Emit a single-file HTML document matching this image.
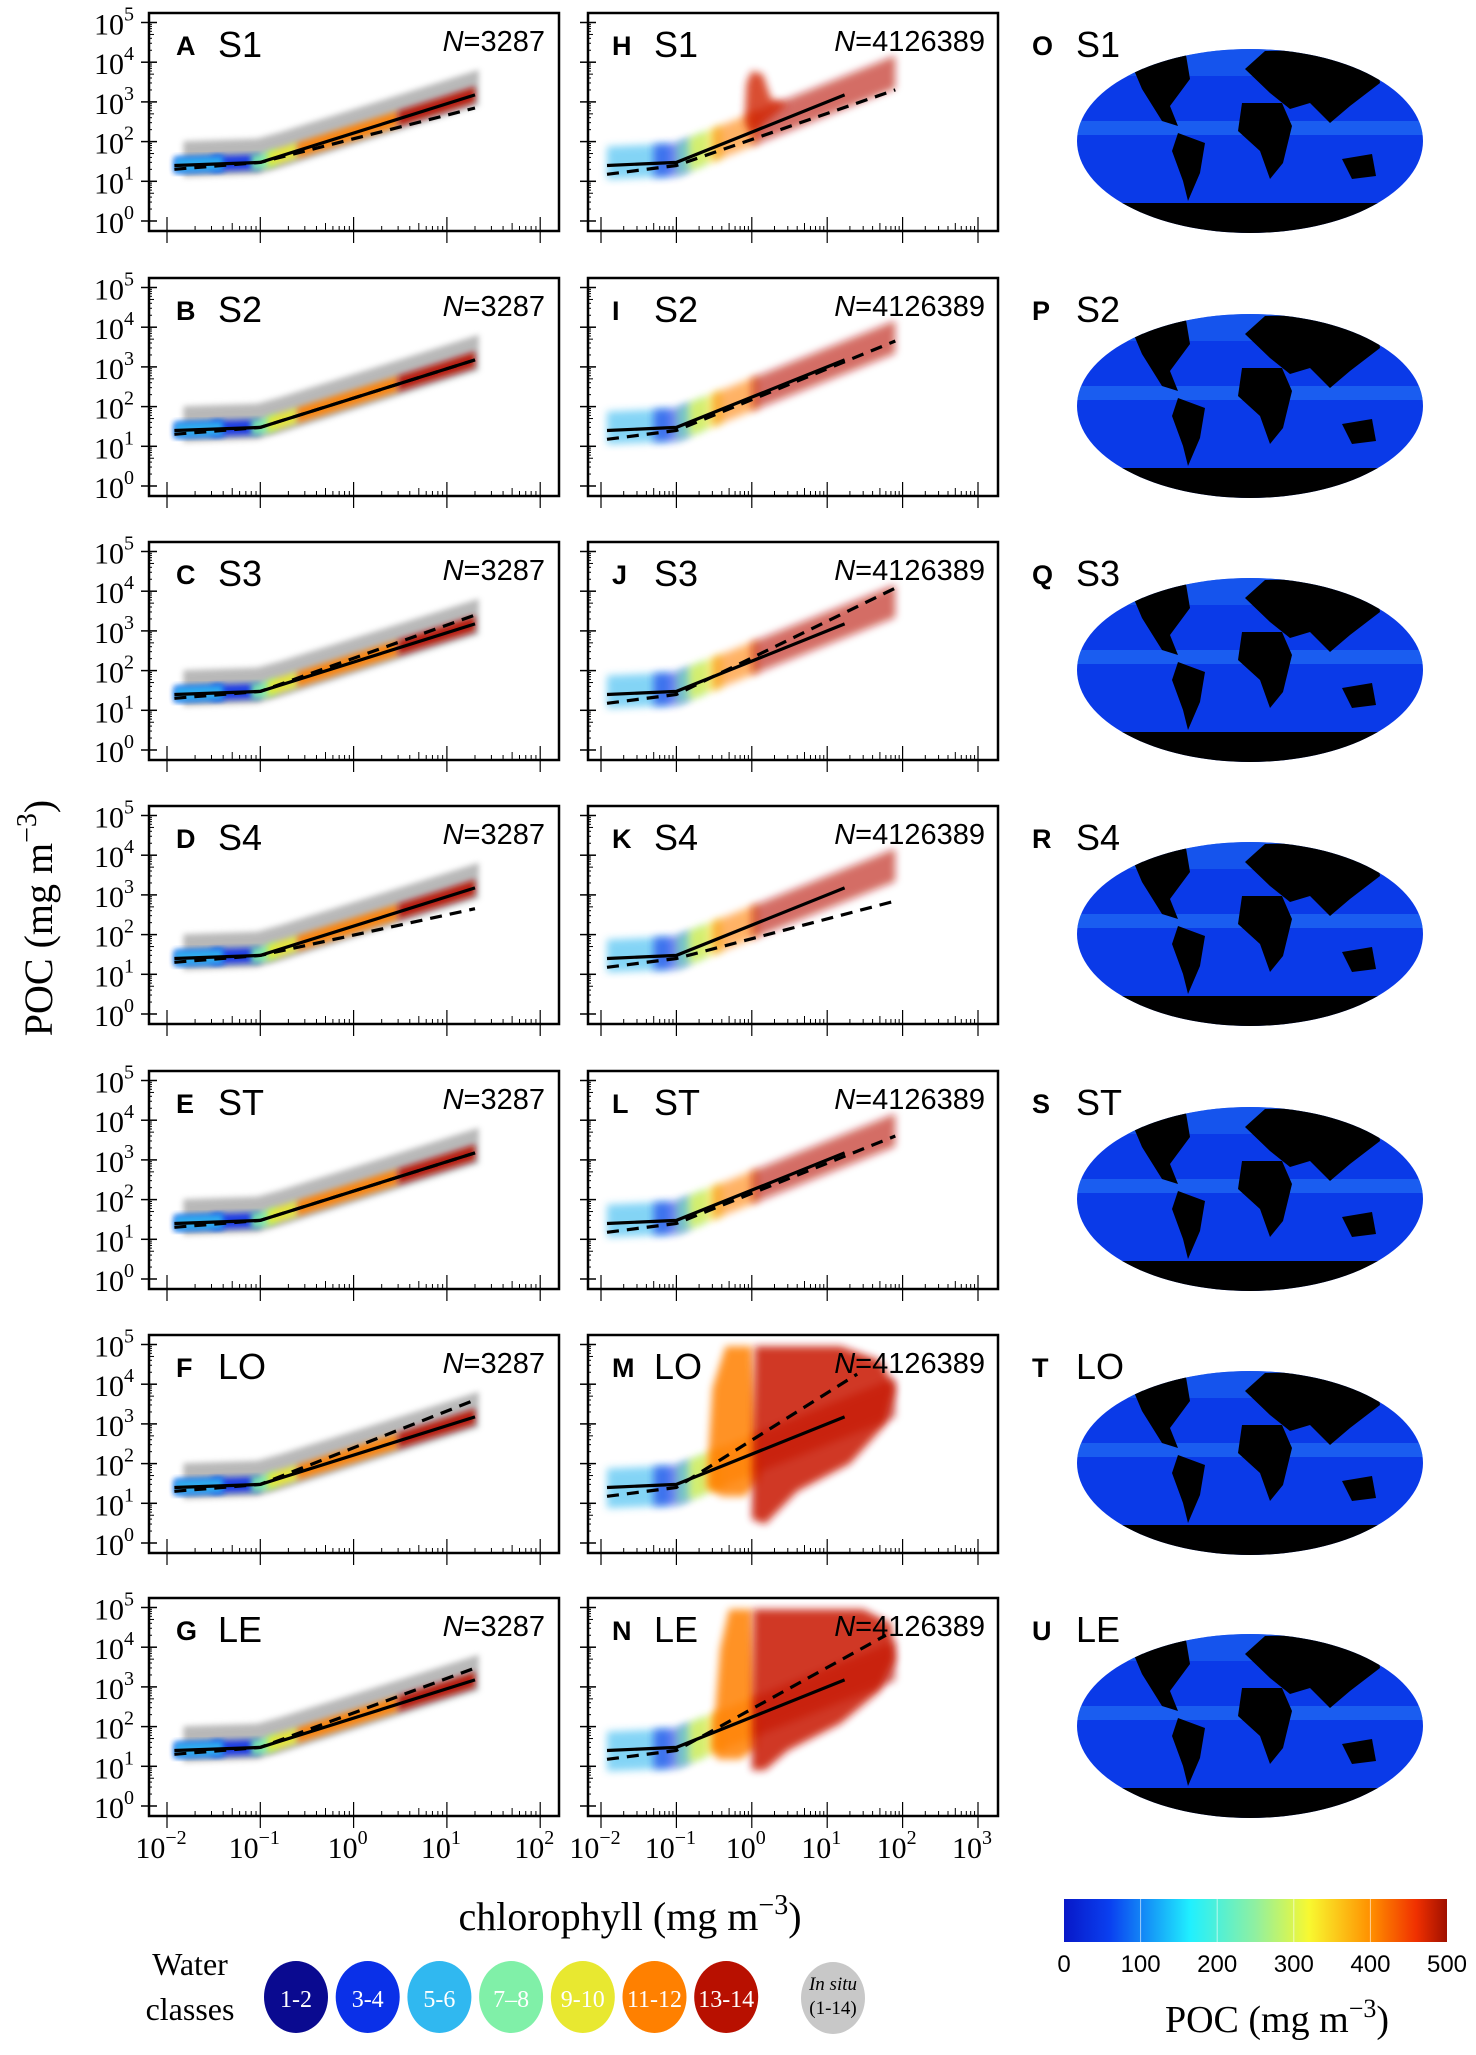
<!DOCTYPE html>
<html><head><meta charset="utf-8">
<style>
html,body{margin:0;padding:0;background:#fff;}
svg{display:block;}
text{font-family:"Liberation Sans","DejaVu Sans",sans-serif;}
.serif{font-family:"Liberation Serif","DejaVu Serif",serif;}
</style></head>
<body>
<svg id="fig" width="1476" height="2055" viewBox="0 0 1476 2055" xmlns="http://www.w3.org/2000/svg">
<defs>
<filter id="blur" x="-20%" y="-20%" width="140%" height="140%"><feGaussianBlur stdDeviation="3"/></filter>
<filter id="blur2" x="-20%" y="-20%" width="140%" height="140%"><feGaussianBlur stdDeviation="4"/></filter>
<linearGradient id="jet" x1="0" x2="1" y1="0" y2="0">
<stop offset="0" stop-color="#0818c8"/><stop offset="0.12" stop-color="#0a40f0"/>
<stop offset="0.33" stop-color="#20f0ff"/><stop offset="0.5" stop-color="#90f0a0"/>
<stop offset="0.64" stop-color="#f8f830"/><stop offset="0.8" stop-color="#ff9000"/>
<stop offset="0.92" stop-color="#f03000"/><stop offset="1" stop-color="#a01000"/>
</linearGradient>
<clipPath id="globeclip"><ellipse cx="0" cy="0" rx="173" ry="92"/></clipPath>
</defs>
<g id="panels"></g>
<text class="serif" x="0" y="0" transform="translate(52,918) rotate(-90)" text-anchor="middle" font-size="40">POC (mg m<tspan dy="-16" font-size="28">−3</tspan><tspan dy="16">)</tspan></text>
<text class="serif" x="630" y="1930" text-anchor="middle" font-size="40">chlorophyll (mg m<tspan dy="-16" font-size="28">−3</tspan><tspan dy="16">)</tspan></text>
<g>
<text class="serif" x="190" y="1975" text-anchor="middle" font-size="32">Water</text>
<text class="serif" x="190" y="2020" text-anchor="middle" font-size="32">classes</text>
<g id="legendItems"></g>
</g>
<g>
<rect x="1064" y="1899" width="383" height="43" fill="url(#jet)"/>
<g id="cbticks"></g>
<text class="serif" x="1277" y="2032" text-anchor="middle" font-size="38">POC (mg m<tspan dy="-15" font-size="26">−3</tspan><tspan dy="15">)</tspan></text>
</g>
</svg>
<script>
const rowNames=['S1','S2','S3','S4','ST','LO','LE'];
const leftLetters=['A','B','C','D','E','F','G'];
const midLetters=['H','I','J','K','L','M','N'];
const globeLetters=['O','P','Q','R','S','T','U'];
const leftN='3287';
const midN='4126389';
// solid reference fit (chl, POC)
const solidLeftX=[0.012,0.1,20];
const solidLeftY=[25,30,1500];
const solidMidX=[0.012,0.1,17];
const solidMidY=[25,30,1500];
// dashed fit per row
const dashLeftEndY=[700,1500,2500,450,1500,4000,3000];
const dashMidEndX=[80,80,80,80,80,25,60];
const dashMidEndY=[2000,4500,12000,700,4000,18000,20000];
// water class legend
const classLabels=['1-2','3-4','5-6','7–8','9-10','11-12','13-14'];
const classColors=['#0a0a90','#0a30e8','#30b8f0','#80f0a8','#e8e830','#ff8000','#b81000'];
const cbTicks=[0,100,200,300,400,500];
// colored cloud segments
const leftSegX0=[0.012,0.03,0.012,0.08,0.12,0.25,3];
const leftSegX1=[0.04,0.1,0.04,0.15,0.25,3,20];
const leftSegCls=[1,1,2,3,4,5,6];
const midSegX0=[0.012,0.05,0.1,0.15,0.3,1];
const midSegX1=[0.08,0.15,0.25,0.4,1.2,80];
const midSegCls=[2,1,3,4,5,6];
// bloom blobs (chl, POC) for H, M, N
const hSpikeX=[0.8,0.85,1.0,1.4,1.8,3,1.5,1.0];
const hSpikeY=[300,3000,6000,5000,1200,900,300,150];
const mOrangeX=[0.25,0.3,0.45,1.0,1.3,0.8,0.4];
const mOrangeY=[25,8000,90000,90000,40,15,15];
const mRedX=[1.0,1.1,15,50,80,60,20,4,1.5];
const mRedY=[4,90000,90000,40000,8000,1000,100,20,3];
const nOrangeX=[0.3,0.38,0.5,1.0,1.2,0.7,0.35];
const nOrangeY=[30,9000,90000,90000,30,15,15];
const nRedX=[1.0,1.05,30,70,80,50,15,3,1.5];
const nRedY=[8,90000,90000,40000,5000,800,120,25,8];
const rowTops=[13,278,542,806,1071,1335,1598];

const SVGNS='http://www.w3.org/2000/svg';
const root=document.getElementById('panels');
function el(tag,attrs,parent){const e=document.createElementNS(SVGNS,tag);for(const k in attrs)e.setAttribute(k,attrs[k]);(parent||root).appendChild(e);return e;}
const L10=Math.log10;
function interp(xs,ys,x){
  if(x<=xs[0])return ys[0];
  for(let i=0;i<xs.length-1;i++){if(x<=xs[i+1]){const t=(L10(x)-L10(xs[i]))/(L10(xs[i+1])-L10(xs[i]));return Math.pow(10,L10(ys[i])+t*(L10(ys[i+1])-L10(ys[i])));}}
  const n=xs.length-1;const s=(L10(ys[n])-L10(ys[n-1]))/(L10(xs[n])-L10(xs[n-1]));return Math.pow(10,L10(ys[n])+s*(L10(x)-L10(xs[n])));
}
function band(g,xs,ys,x0,x1,up,lo,fill,op,name,sx,sy,filt){
  const n=12;let top=[],bot=[];
  for(let i=0;i<=n;i++){const x=Math.pow(10,L10(x0)+(L10(x1)-L10(x0))*i/n);const c=interp(xs,ys,x);top.push(sx(x).toFixed(1)+','+sy(c*up).toFixed(1));bot.unshift(sx(x).toFixed(1)+','+sy(c*lo).toFixed(1));}
  const p=el('polygon',{points:top.concat(bot).join(' '),fill:fill,opacity:op,filter:filt||'url(#blur)'},g);
  
  
  return p;
}
function blob(g,sx,sy,xs,ys,fill,op,name){
  const pts=xs.map((x,i)=>sx(x).toFixed(1)+','+sy(ys[i]).toFixed(1)).join(' ');
  const p=el('polygon',{points:pts,fill:fill,opacity:op,filter:'url(#blur2)'},g);
  
  
}
function axes(g,left,right,top,sx,sy,xDecades,showXLabels){
  const bottom=top+218;
  for(let d=0;d<=5;d++){
    el('line',{x1:left-8,x2:left+8,y1:sy(Math.pow(10,d)),y2:sy(Math.pow(10,d)),stroke:'#000','stroke-width':1.5},g);
    if(d<5)for(let m=2;m<10;m++){const y=sy(m*Math.pow(10,d));el('line',{x1:left,x2:left+(m==5?5:3),y1:y,y2:y,stroke:'#000','stroke-width':1},g);}
  }
  for(const d of xDecades){
    const x=sx(Math.pow(10,d));
    el('line',{x1:x,x2:x,y1:bottom-14,y2:bottom+12,stroke:'#000','stroke-width':1.2},g);
    if(d<xDecades[xDecades.length-1])for(let m=2;m<10;m++){const xx=sx(m*Math.pow(10,d));el('line',{x1:xx,x2:xx,y1:bottom-(m==5?8:5),y2:bottom,stroke:'#000','stroke-width':1},g);}
    if(showXLabels){
      const t=el('text',{x:x-6,y:1858,'text-anchor':'middle','font-size':30,class:'serif'},g);
      t.textContent='10';
      const s=el('tspan',{dy:-14,'font-size':20},t);s.textContent=d<0?'−'+(-d):''+d;
      
      
    }
  }
  el('rect',{x:left,y:top,width:right-left,height:218,fill:'none',stroke:'#000','stroke-width':2.5},g);
}
function line(g,xs,ys,sx,sy,dash,name){
  const pts=xs.map((x,i)=>sx(x).toFixed(1)+','+sy(ys[i]).toFixed(1)).join(' ');
  const p=el('polyline',{points:pts,fill:'none',stroke:'#000','stroke-width':3.2,'stroke-dasharray':dash||'none'},g);
  
  
}
function label(g,x,y,letter,name,n,nx){
  const a=el('text',{x:x,y:y,'font-size':27,'font-weight':'bold'},g);a.textContent=letter;
  
  
  const b=el('text',{x:x+42,y:y+2,'font-size':36},g);b.textContent=name;
  
  
  if(n){const t=el('text',{x:nx,y:y-4,'font-size':29,'text-anchor':'end'},g);
    const i=el('tspan',{'font-style':'italic'},t);i.textContent='N';
    const r=el('tspan',{},t);r.textContent='='+n;
    
    }
}

rowNames.forEach((nm,r)=>{
  const T=rowTops[r];
  const sy=v=>T+208-L10(v)*39.7;
  // ---------- left panel ----------
  const gl=el('g',{});
  
  
  const sxl=v=>167+(L10(v)+2)*93.3;
  band(gl,solidLeftX,solidLeftY,0.015,22,4.0,0.5,'#8a8a8a',0.6,'insitu-cloud',sxl,sy);
  leftSegX0.forEach((x0,i)=>band(gl,solidLeftX,solidLeftY,x0,leftSegX1[i],1.6,0.65,classColors[leftSegCls[i]],0.9,'class-cloud-'+classLabels[leftSegCls[i]],sxl,sy));
  line(gl,solidLeftX,solidLeftY,sxl,sy,null,'solid-fit-line');
  line(gl,[0.012,0.1,20],[20,30,dashLeftEndY[r]],sxl,sy,'12,8','dashed-fit-line');
  axes(gl,149,559,T,sxl,sy,[-2,-1,0,1,2],r==6);
  for(let d=0;d<=5;d++){
    const t=el('text',{x:114,y:sy(Math.pow(10,d))+12,'text-anchor':'middle','font-size':30,class:'serif'},gl);t.textContent='10';
    const s=el('tspan',{dy:-14,'font-size':20},t);s.textContent=''+d;
    
    
  }
  label(gl,176,T+42,leftLetters[r],nm,leftN,545);
  // ---------- middle panel ----------
  const gm=el('g',{});
  
  
  const sxm=v=>601+(L10(v)+2)*75.4;
  const spread=(r==5||r==6)?[3,0.3]:[3,0.45];
  midSegX0.forEach((x0,i)=>band(gm,solidMidX,solidMidY,x0,midSegX1[i],spread[0],spread[1],classColors[midSegCls[i]],0.6,'class-cloud-'+classLabels[midSegCls[i]],sxm,sy,'url(#blur2)'));
  if(r==0){blob(gm,sxm,sy,hSpikeX,hSpikeY,'#d02000',0.8,'bloom-spike');}
  if(r==5){blob(gm,sxm,sy,mOrangeX,mOrangeY,'#ff8000',0.85,'bloom-orange');blob(gm,sxm,sy,mRedX,mRedY,'#c81200',0.85,'bloom-red');}
  if(r==6){blob(gm,sxm,sy,nOrangeX,nOrangeY,'#ff8000',0.85,'bloom-orange');blob(gm,sxm,sy,nRedX,nRedY,'#c81200',0.85,'bloom-red');}
  line(gm,solidMidX,solidMidY,sxm,sy,null,'solid-fit-line');
  line(gm,[0.012,0.1,dashMidEndX[r]],[15,25,dashMidEndY[r]],sxm,sy,'12,8','dashed-fit-line');
  axes(gm,588,998,T,sxm,sy,[-2,-1,0,1,2,3],r==6);
  label(gm,612,T+42,midLetters[r],nm,midN,985);
  // ---------- globe ----------
  const gg=el('g',{transform:'translate(1250,'+(T+128)+')'});
  
  
  const gc=el('g',{'clip-path':'url(#globeclip)'},gg);
  el('rect',{x:-180,y:-100,width:360,height:200,fill:'#0a3ae8'},gc);
  el('rect',{x:-180,y:-100,width:360,height:35,fill:'#1a60f0',opacity:0.7},gc);
  el('rect',{x:-180,y:-20,width:360,height:14,fill:'#2a80f8',opacity:0.5},gc);
  el('rect',{x:-180,y:62,width:360,height:45,fill:'#000'},gc);
  el('path',{d:'M-125,-92 L-65,-92 L-60,-62 L-80,-35 L-72,-15 L-88,-20 L-108,-52 Z',fill:'#000'},gc);
  el('path',{d:'M-72,-8 L-45,2 L-50,32 L-62,60 L-67,40 L-78,10 Z',fill:'#000'},gc);
  el('path',{d:'M-5,-72 L15,-90 L125,-92 L130,-58 L100,-35 L80,-18 L60,-38 L40,-32 L20,-48 Z',fill:'#000'},gc);
  el('path',{d:'M-8,-38 L32,-38 L42,-15 L33,22 L20,38 L10,10 L-12,-10 Z',fill:'#000'},gc);
  el('path',{d:'M92,18 L122,13 L126,35 L102,38 Z',fill:'#000'},gc);
  const gt=el('text',{x:1032,y:T+42,'font-size':27,'font-weight':'bold'});gt.textContent=globeLetters[r];
  
  
  const gn=el('text',{x:1076,y:T+44,'font-size':36});gn.textContent=nm;
  
  
});

// legend
const li=document.getElementById('legendItems');
classLabels.forEach((c,i)=>{
  const g=el('g',{},li);
  
  
  const cx=296+i*71.7;
  el('ellipse',{cx:cx,cy:1997,rx:32,ry:36,fill:classColors[i]},g);
  const t=el('text',{x:cx,y:2007,'text-anchor':'middle','font-size':24,fill:'#fff',class:'serif'},g);t.textContent=c;
});
const gi=el('g',{},li);


el('ellipse',{cx:833,cy:1998,rx:32,ry:36,fill:'#c8c8c8'},gi);
const t1=el('text',{x:833,y:1990,'text-anchor':'middle','font-size':19,'font-style':'italic',class:'serif'},gi);t1.textContent='In situ';
const t2=el('text',{x:833,y:2014,'text-anchor':'middle','font-size':19,class:'serif'},gi);t2.textContent='(1-14)';
const cbt=document.getElementById('cbticks');
cbTicks.forEach(v=>{
  const x=1064+v/500*383;
  if(v>0&&v<500)el('line',{x1:x,x2:x,y1:1899,y2:1942,stroke:'#fff','stroke-width':1,opacity:0.6},cbt);
  const t=el('text',{x:x,y:1972,'text-anchor':'middle','font-size':24},cbt);t.textContent=v;
  
  
});
</script>
</body></html>
